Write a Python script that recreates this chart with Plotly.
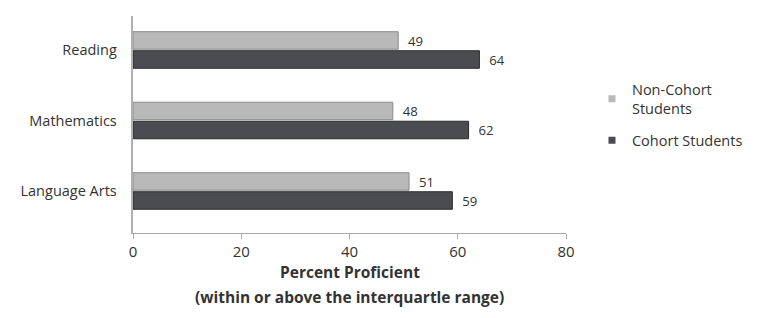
import plotly.graph_objects as go

categories = ["Language Arts", "Mathematics", "Reading"]
non_cohort = [51, 48, 49]
cohort = [59, 62, 64]
x_ticks = [0, 20, 40, 60, 80]
series_names = ["Non-Cohort<br>Students", "Cohort Students"]
x_title_lines = ["Percent Proficient", "(within or above the interquartle range)"]

font_family = "Open Sans, Lato, sans-serif"
light = "#b9b9b9"
dark = "#4b4b52"

fig = go.Figure()
fig.add_trace(go.Bar(
    y=categories, x=cohort, orientation="h", name=series_names[1],
    marker=dict(color=dark, line=dict(color="#2a2a2a", width=1)),
    text=cohort, texttemplate="  %{x}", textposition="outside", cliponaxis=False,
    textfont=dict(size=15, color="#333333"), showlegend=False,
))
fig.add_trace(go.Bar(
    y=categories, x=non_cohort, orientation="h", name=series_names[0],
    marker=dict(color=light, line=dict(color="#8a8a8a", width=1)),
    text=non_cohort, texttemplate="  %{x}", textposition="outside", cliponaxis=False,
    textfont=dict(size=15, color="#333333"), showlegend=False,
))
# legend entries with small square swatches
for i, (name, col) in enumerate(zip(series_names, [light, dark])):
    fig.add_trace(go.Scatter(
        x=[None], y=[None], mode="markers", name=name, legendgroup="g%d" % i,
        marker=dict(symbol="square", size=7, color=col),
    ))

fig.add_annotation(text="<b>" + x_title_lines[0] + "</b>", xref="paper", yref="paper",
                   x=0.5, y=-0.18, xanchor="center", yanchor="middle", showarrow=False,
                   font=dict(size=15.5, color="#333333"))
fig.add_annotation(text="<b>" + x_title_lines[1] + "</b>", xref="paper", yref="paper",
                   x=0.5, y=-0.295, xanchor="center", yanchor="middle", showarrow=False,
                   font=dict(size=15.5, color="#333333"))

# page body has an 8px default margin, so the figure is sized/offset to compensate
fig.update_layout(
    width=749, height=310,
    margin=dict(l=125, r=191, t=8, b=85, autoexpand=False),
    paper_bgcolor="white", plot_bgcolor="white",
    barmode="group", bargap=0.46, bargroupgap=0.08,
    font=dict(family=font_family, size=14, color="#333333"),
    showlegend=True,
    legend=dict(x=1.060, xanchor="left", y=0.735, yanchor="top",
                font=dict(size=14.5, color="#333333"), tracegroupgap=10,
                itemwidth=30, bgcolor="rgba(0,0,0,0)"),
    xaxis=dict(range=[0, 80], tickvals=x_ticks, showgrid=False, automargin=False,
               showline=True, linecolor="#a8a8a8", linewidth=1,
               ticks="outside", ticklen=5, tickcolor="#a8a8a8",
               tickfont=dict(size=15, color="#333333"), zeroline=False),
    yaxis=dict(categoryorder="array", categoryarray=categories, range=[-0.596, 2.482],
               showline=True, linecolor="#b0b0b0", linewidth=2, automargin=False,
               ticks="", showgrid=False,
               tickfont=dict(size=14.5, color="#333333"), ticksuffix="   "),
)

fig.write_html("out.html", config={"displayModeBar": False})
